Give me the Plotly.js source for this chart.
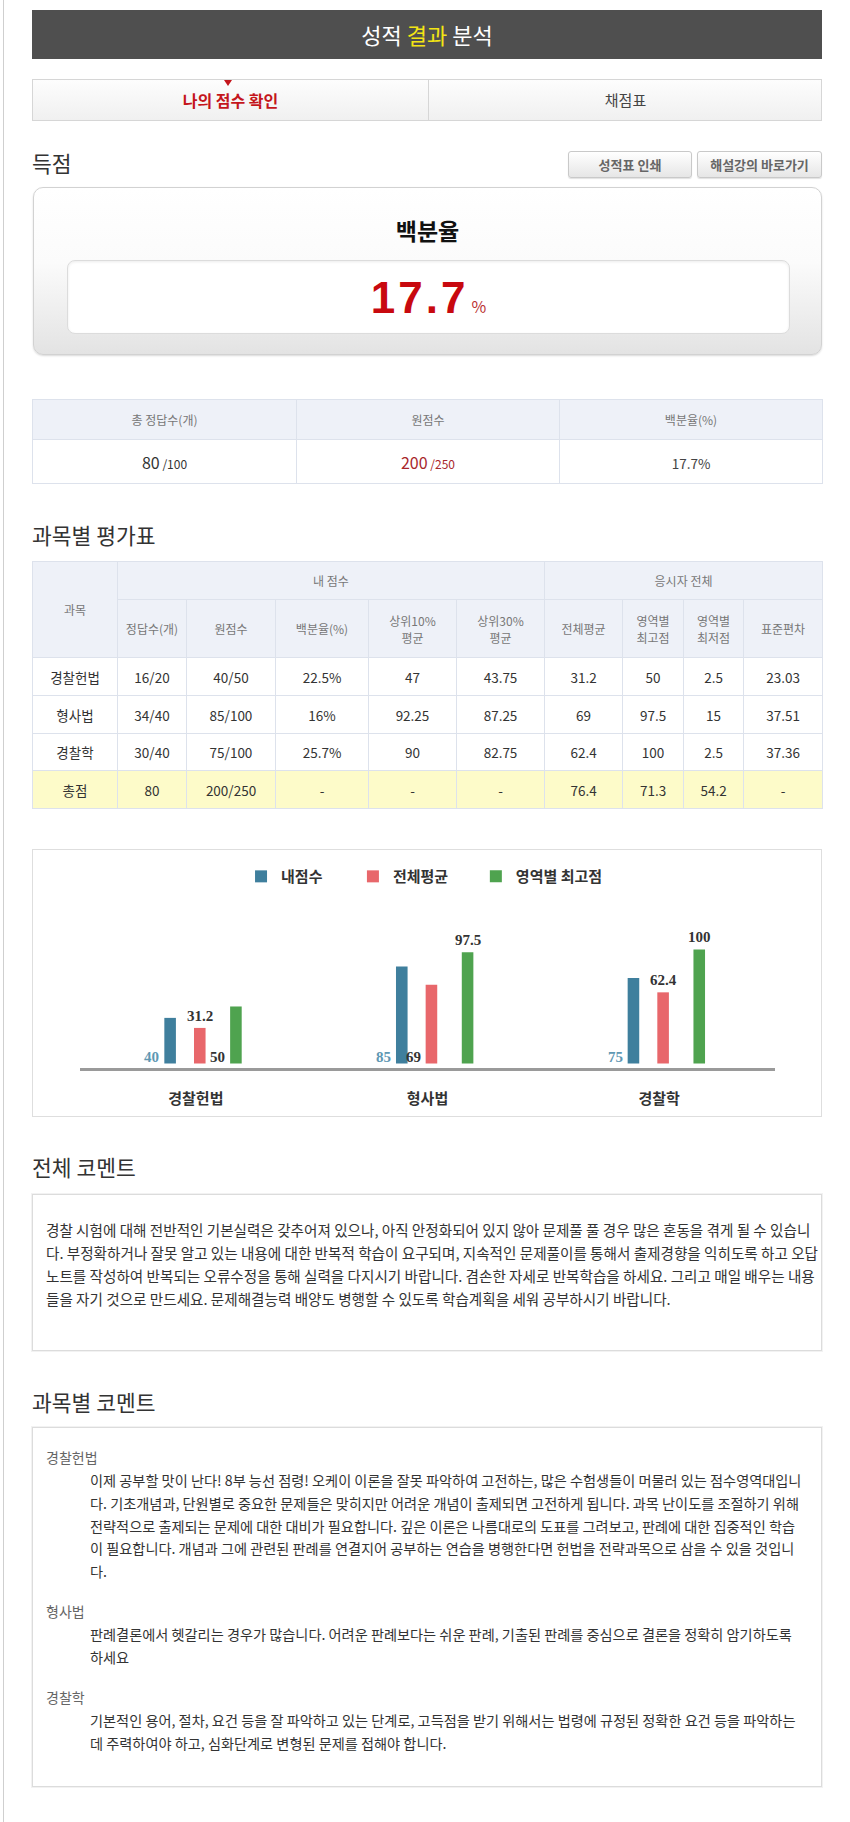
<!DOCTYPE html>
<html><head><meta charset="utf-8">
<script src="https://cdn.plot.ly/plotly-3.0.1.min.js"></script>
<style>
html,body{margin:0;padding:0;background:#fff;}
body{width:850px;height:1822px;position:relative;overflow:hidden;font-family:"Noto Sans CJK KR","Noto Sans",sans-serif;color:#333;}
.abs{position:absolute;}
#vline{left:3px;top:0;width:1px;height:1822px;background:#cfcfcf;}
#hdr{left:32px;top:10px;width:790px;height:49px;background:#4f4f4f;color:#fff;font-size:22px;line-height:49px;text-align:center;}
#hdr span{color:#f3e514;}
#tabs{left:32px;top:79px;width:790px;height:42px;border:1px solid #d6d6d6;box-sizing:border-box;background:linear-gradient(#fdfdfd,#f0f0f0);}
.tab{position:absolute;top:0;height:40px;line-height:40px;text-align:center;font-size:15px;}
#tab1{left:0;width:395px;color:#c4161c;font-weight:bold;font-size:16px;}
#tab2{left:395px;width:393px;border-left:1px solid #d6d6d6;color:#444;}
#tri{left:224px;top:80px;width:0;height:0;border-left:4px solid transparent;border-right:4px solid transparent;border-top:6px solid #c4161c;}
.h2{font-size:21.5px;color:#333;line-height:28px;left:32px;}
.btn{top:151px;height:27px;line-height:25px;border:1px solid #c9c9c9;box-sizing:border-box;border-radius:3px;background:linear-gradient(#ffffff,#e6e6e6);font-size:13px;color:#666;font-weight:bold;text-align:center;box-shadow:0 1px 1px rgba(0,0,0,0.12);}
#scorebox{left:33px;top:187px;width:789px;height:168px;border:1px solid #d2d2d2;box-sizing:border-box;border-radius:10px;background:linear-gradient(#ffffff 0%,#fbfbfb 45%,#e3e3e3 100%);box-shadow:0 1px 2px rgba(0,0,0,0.15);}
#pctlabel{left:33px;top:214px;width:789px;text-align:center;font-size:23px;font-weight:bold;color:#111;line-height:32px;}
#innerbox{left:67px;top:260px;width:723px;height:74px;border:1px solid #dcdcdc;box-sizing:border-box;border-radius:8px;background:#fff;box-shadow:inset 0 1px 3px rgba(0,0,0,0.08);}
#pctval{left:67px;top:276px;width:723px;text-align:center;line-height:44px;color:#c8090f;}
#pctval b{font-family:"Liberation Sans",Arial,sans-serif;font-size:44px;letter-spacing:3px;}
#pctval i{font-style:normal;font-size:16px;color:#b33;margin-left:3px;}
table{border-collapse:collapse;table-layout:fixed;position:absolute;}
td{border:1px solid #dde2ec;text-align:center;padding:0;}
.th{background:#eef1f8;color:#777;font-size:12px;line-height:17px;}
.td{color:#333;font-size:13.5px;}
.tot td{background:#fdfbc9;}
#chartwrap{left:32px;top:849px;width:790px;height:268px;border:1px solid #dedede;box-sizing:border-box;}
#chart{left:33px;top:850px;width:788px;height:266px;}
.cbox{left:32px;width:790px;border:1px solid #dcdcdc;box-sizing:border-box;box-shadow:0 0 0 1px #f2f2f2;}
.line{position:absolute;white-space:nowrap;font-size:14.6px;line-height:23px;color:#333;}
.line2{position:absolute;white-space:nowrap;font-size:14.2px;line-height:23px;color:#333;}
.sub{position:absolute;white-space:nowrap;font-size:14px;line-height:23px;color:#666;}
</style></head>
<body>
<div id="vline" class="abs"></div>
<div id="hdr" class="abs">성적 <span>결과</span> 분석</div>
<div id="tabs" class="abs"><div id="tab1" class="tab">나의 점수 확인</div><div id="tab2" class="tab">채점표</div></div>
<div id="tri" class="abs"></div>
<div class="abs h2" style="top:149px;">득점</div>
<div class="abs btn" style="left:568px;width:124px;">성적표 인쇄</div>
<div class="abs btn" style="left:697px;width:125px;">해설강의 바로가기</div>
<div id="scorebox" class="abs"></div>
<div id="pctlabel" class="abs">백분율</div>
<div id="innerbox" class="abs"></div>
<div id="pctval" class="abs"></div>
<div id="summary"></div>
<div class="abs h2" style="top:521px;">과목별 평가표</div>
<div id="bigtable"></div>
<div id="chartwrap" class="abs"></div>
<div id="chart" class="abs"></div>
<div class="abs h2" style="top:1153px;">전체 코멘트</div>
<div id="box1" class="abs cbox" style="top:1194px;height:157px;"></div>
<div class="abs h2" style="top:1388px;">과목별 코멘트</div>
<div id="box2" class="abs cbox" style="top:1427px;height:360px;"></div>
<script>
// ---------------- DATA ----------------
const categories = ['경찰헌법', '형사법', '경찰학'];
const myScore = [40, 85, 75];
const avgScore = [31.2, 69, 62.4];
const maxScore = [50, 97.5, 100];
const seriesNames = ['내점수', '전체평균', '영역별 최고점'];

const percentValue = '17.7';
const summaryHeaders = ['총 정답수(개)', '원점수', '백분율(%)'];
const summaryMain = ['80', '200', '17.7%'];
const summaryTotal = ['/100', '/250', ''];

const tableSubjects = ['경찰헌법', '형사법', '경찰학', '총점'];
const correctCount = ['16/20', '34/40', '30/40', '80'];
const rawScore = ['40/50', '85/100', '75/100', '200/250'];
const percentile = ['22.5%', '16%', '25.7%', '-'];
const top10Avg = ['47', '92.25', '90', '-'];
const top30Avg = ['43.75', '87.25', '82.75', '-'];
const overallAvg = ['31.2', '69', '62.4', '76.4'];
const areaMax = ['50', '97.5', '100', '71.3'];
const areaMin = ['2.5', '15', '2.5', '54.2'];
const stdDev = ['23.03', '37.51', '37.36', '-'];
const colHeaders = ['정답수(개)', '원점수', '백분율(%)', '상위10%<br>평균', '상위30%<br>평균', '전체평균', '영역별<br>최고점', '영역별<br>최저점', '표준편차'];

const overallComment = [
  '경찰 시험에 대해 전반적인 기본실력은 갖추어져 있으나, 아직 안정화되어 있지 않아 문제풀 풀 경우 많은 혼동을 겪게 될 수 있습니',
  '다. 부정확하거나 잘못 알고 있는 내용에 대한 반복적 학습이 요구되며, 지속적인 문제풀이를 통해서 출제경향을 익히도록 하고 오답',
  '노트를 작성하여 반복되는 오류수정을 통해 실력을 다지시기 바랍니다. 겸손한 자세로 반복학습을 하세요. 그리고 매일 배우는 내용',
  '들을 자기 것으로 만드세요. 문제해결능력 배양도 병행할 수 있도록 학습계획을 세워 공부하시기 바랍니다.'
];
const subjectComments = [
  ['이제 공부할 맛이 난다! 8부 능선 점령! 오케이 이론을 잘못 파악하여 고전하는, 많은 수험생들이 머물러 있는 점수영역대입니',
   '다. 기초개념과, 단원별로 중요한 문제들은 맞히지만 어려운 개념이 출제되면 고전하게 됩니다. 과목 난이도를 조절하기 위해',
   '전략적으로 출제되는 문제에 대한 대비가 필요합니다. 깊은 이론은 나름대로의 도표를 그려보고, 판례에 대한 집중적인 학습',
   '이 필요합니다. 개념과 그에 관련된 판례를 연결지어 공부하는 연습을 병행한다면 헌법을 전략과목으로 삼을 수 있을 것입니',
   '다.'],
  ['판례결론에서 헷갈리는 경우가 많습니다. 어려운 판례보다는 쉬운 판례, 기출된 판례를 중심으로 결론을 정확히 암기하도록',
   '하세요'],
  ['기본적인 용어, 절차, 요건 등을 잘 파악하고 있는 단계로, 고득점을 받기 위해서는 법령에 규정된 정확한 요건 등을 파악하는',
   '데 주력하여야 하고, 심화단계로 변형된 문제를 접해야 합니다.']
];

// ---------------- BUILD PAGE ----------------
document.getElementById('pctval').innerHTML = '<b>' + percentValue + '</b><i>%</i>';

(function(){
  const colors = ['#333', '#a8262b', '#444'];
  const sizes = ['16px', '16px', '13.5px'];
  let h = '<table style="left:32px;top:399px;width:790px;"><colgroup><col style="width:264px"><col style="width:263px"><col style="width:263px"></colgroup>';
  h += '<tr style="height:40px">' + summaryHeaders.map(s => '<td class="th">' + s + '</td>').join('') + '</tr><tr style="height:44px">';
  for (let i = 0; i < 3; i++) {
    h += '<td style="color:' + colors[i] + '"><span style="font-size:' + sizes[i] + '">' + summaryMain[i] + '</span>' +
      (summaryTotal[i] ? '<span style="font-size:12px"> ' + summaryTotal[i] + '</span>' : '') + '</td>';
  }
  h += '</tr></table>';
  document.getElementById('summary').innerHTML = h;
})();

(function(){
  const widths = [85, 69, 89, 93, 88, 88, 78, 61, 60, 79];
  let h = '<table style="left:32px;top:561px;width:790px;"><colgroup>' + widths.map(w => '<col style="width:' + w + 'px">').join('') + '</colgroup>';
  h += '<tr style="height:38px"><td class="th" rowspan="2">과목</td><td class="th" colspan="5">내 점수</td><td class="th" colspan="4">응시자 전체</td></tr>';
  h += '<tr style="height:58px">' + colHeaders.map(c => '<td class="th">' + c + '</td>').join('') + '</tr>';
  const cols = [tableSubjects, correctCount, rawScore, percentile, top10Avg, top30Avg, overallAvg, areaMax, areaMin, stdDev];
  const rh = [38, 38, 37, 38];
  for (let r = 0; r < tableSubjects.length; r++) {
    h += '<tr class="' + (r === tableSubjects.length - 1 ? 'tot' : '') + '" style="height:' + rh[r] + 'px">' +
      cols.map(c => '<td class="td">' + c[r] + '</td>').join('') + '</tr>';
  }
  h += '</table>';
  document.getElementById('bigtable').innerHTML = h;
})();

(function(){
  const b1 = document.getElementById('box1');
  overallComment.forEach((t, i) => {
    const d = document.createElement('div'); d.className = 'line';
    d.style.left = '13px'; d.style.top = (23 + i * 23) + 'px'; d.textContent = t; b1.appendChild(d);
  });
  const b2 = document.getElementById('box2');
  const labelTops = [18, 172, 258];
  subjectComments.forEach((lines, k) => {
    const s = document.createElement('div'); s.className = 'sub';
    s.style.left = '13px'; s.style.top = labelTops[k] + 'px'; s.textContent = categories[k]; b2.appendChild(s);
    lines.forEach((t, i) => {
      const d = document.createElement('div'); d.className = 'line2';
      d.style.left = '57px'; d.style.top = (labelTops[k] + 23 + i * 22.8) + 'px'; d.textContent = t; b2.appendChild(d);
    });
  });
})();

// ---------------- CHART ----------------
const seriesValues = [myScore, avgScore, maxScore];
const barColors = ['#3f7f9d', '#e8676b', '#4fa34f'];
const labelColors = ['#5f98b3', '#333333', '#333333'];
const barWidth = 0.05;
const barOffsets = [-0.136, -0.008, 0.148];
const labelPlacement = [['base', 'base', 'base'], ['top', 'base', 'top'], ['base', 'top', 'top']];
const legendIds = ['legend', 'legend2', 'legend3'];
const legendX = [0.264, 0.406, 0.562];

const traces = seriesValues.map((vals, s) => ({
  type: 'bar', name: seriesNames[s], x: categories, y: vals,
  width: barWidth, offset: barOffsets[s], legend: legendIds[s],
  marker: { color: barColors[s] }, hoverinfo: 'skip'
}));

const annotations = [];
seriesValues.forEach((vals, s) => {
  vals.forEach((v, i) => {
    const top = labelPlacement[s][i] === 'top';
    annotations.push({
      xref: 'x', yref: 'y',
      x: top ? i + barOffsets[s] + barWidth / 2 : i + barOffsets[s],
      y: top ? v : 0,
      xanchor: top ? 'center' : 'right', yanchor: 'bottom',
      xshift: top ? 0 : -3, yshift: top ? 2 : -3,
      text: String(v), showarrow: false,
      font: { family: 'Liberation Serif, serif', size: 15, color: labelColors[s], weight: 'bold' }
    });
  });
});

const layout = {
  width: 788, height: 266,
  margin: { l: 47, r: 46, t: 60, b: 48 },
  paper_bgcolor: '#fff', plot_bgcolor: '#fff',
  barmode: 'overlay',
  showlegend: true,
  xaxis: {
    type: 'category', showline: true, linecolor: '#9a9a9a', linewidth: 3, showgrid: false, zeroline: false,
    ticks: 'outside', ticklen: 15, tickcolor: 'rgba(0,0,0,0)',
    tickfont: { family: 'Noto Sans CJK KR, sans-serif', size: 15, color: '#333', weight: 'bold' }
  },
  yaxis: { range: [-3.95, 134.6], visible: false, showgrid: false, zeroline: false, fixedrange: true },
  annotations: annotations
};
legendIds.forEach((id, s) => {
  layout[id] = {
    orientation: 'h', xref: 'container', yref: 'container', x: legendX[s], xanchor: 'left', y: 0.9, yanchor: 'middle',
    font: { family: 'Noto Sans CJK KR, sans-serif', size: 15, color: '#333', weight: 'bold' },
    itemwidth: 30, bgcolor: 'rgba(0,0,0,0)'
  };
});
Plotly.newPlot('chart', traces, layout, { displayModeBar: false, staticPlot: true });
</script>
</body></html>
